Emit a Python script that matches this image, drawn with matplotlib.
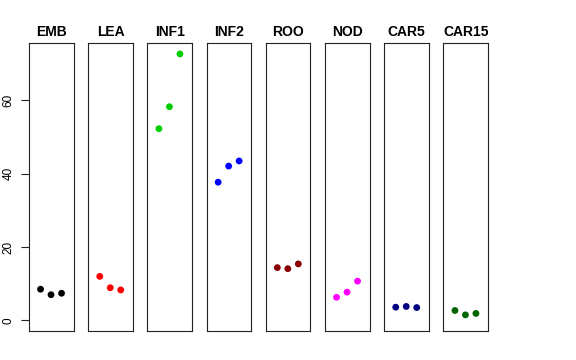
import matplotlib
matplotlib.use("Agg")
import matplotlib.pyplot as plt

plt.rcParams['font.family'] = ['Liberation Sans', 'DejaVu Sans']

# tissue names and colours
tissues = ["EMB", "LEA", "INF1", "INF2", "ROO", "NOD", "CAR5", "CAR15"]
colors = ["black", "red", "#00CD00", "blue", "#8B0000", "magenta", "#000080", "#006400"]

# three replicate values per tissue
emb = [8.5, 7.0, 7.4]
lea = [12.0, 8.9, 8.3]
inf1 = [52.3, 58.3, 72.7]
inf2 = [37.7, 42.1, 43.5]
roo = [14.4, 14.1, 15.4]
nod = [6.3, 7.7, 10.7]
car5 = [3.6, 3.8, 3.5]
car15 = [2.7, 1.5, 1.9]
values = [emb, lea, inf1, inf2, roo, nod, car5, car15]

reps = [1, 2, 3]
yticks = [0, 20, 40, 60]

W, H = 576, 360
fig = plt.figure(figsize=(W / 100, H / 100), dpi=100)

left0 = 29.0 #left edge of first panel [px]
step = 59.2 #distance between panels [px]
pw = 44.6 #panel width [px]
top, bottom = 43.3, 331.0

for i, name in enumerate(tissues):
	ax = fig.add_axes([(left0 + i * step) / W, (H - bottom) / H, pw / W, (bottom - top) / H])
	ax.scatter(reps, values[i], s=24, color=colors[i], edgecolors='none', zorder=3)
	ax.set_xlim(-0.1, 4.15)
	ax.set_ylim(-2.9, 75.6)
	ax.set_xticks([])
	ax.set_title(name, fontsize=10, fontweight='bold', pad=5.5)
	for sp in ax.spines.values():
		sp.set_linewidth(0.8)
		sp.set_color('#222222')
	if i == 0:
		ax.set_yticks(yticks)
		ax.set_yticklabels([str(t) for t in yticks], rotation=90, va='center', fontsize=8.5)
		ax.tick_params(axis='y', length=5.8, width=0.8, pad=4.5, color='#222222')
	else:
		ax.set_yticks([])

fig.savefig("out.png", dpi=100)
